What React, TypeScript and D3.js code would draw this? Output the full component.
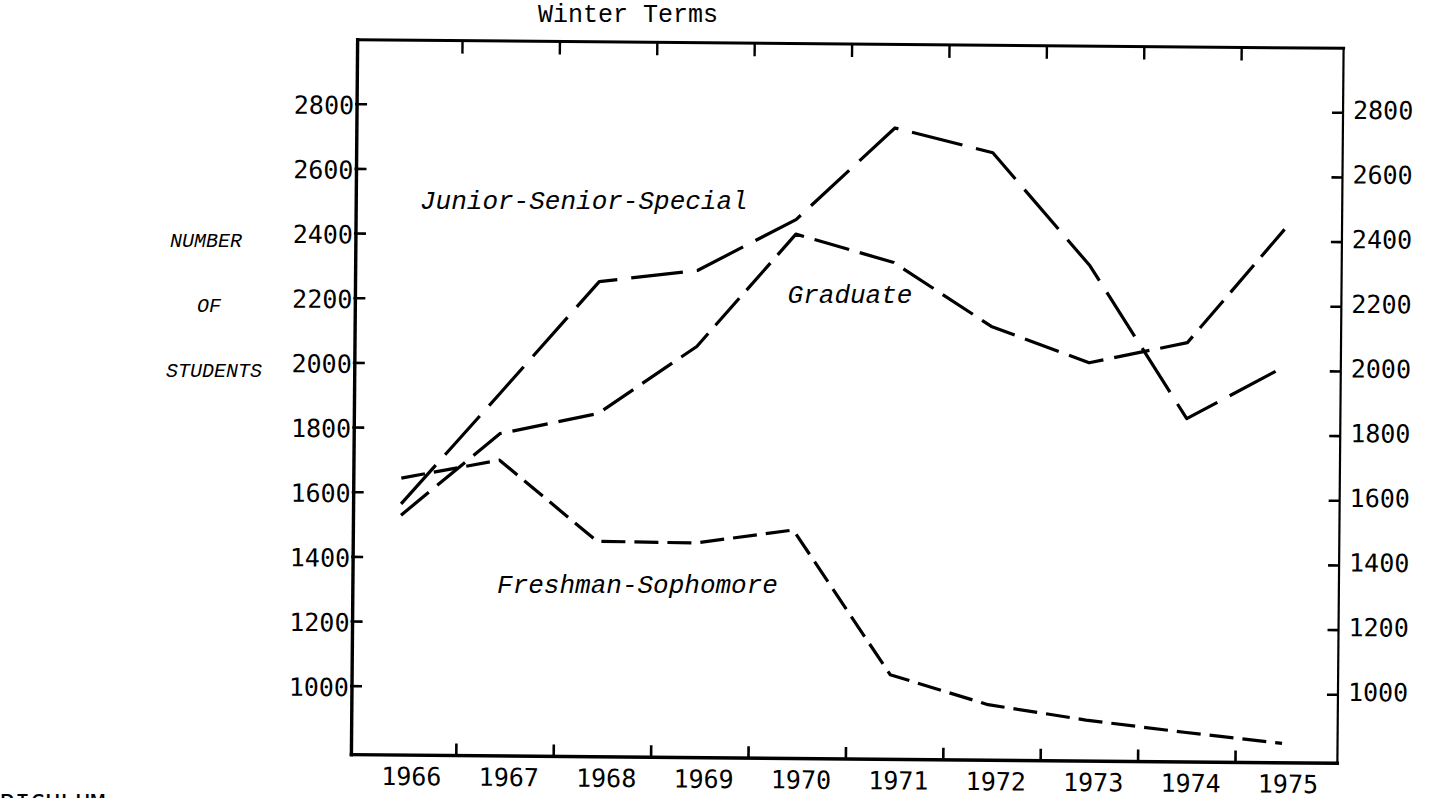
import React from "react";
import * as d3 from "d3";

// ---- data ----
const years = [1966, 1967, 1968, 1969, 1970, 1971, 1972, 1973, 1974, 1975];
const juniorSeniorSpecial = [1565, 1910, 2258, 2295, 2455, 2741, 2667, 2320, 1850, 2015];
const graduate = [1530, 1785, 1850, 2060, 2410, 2325, 2130, 2020, 2085, 2445];
const freshmanSophomore = [1645, 1703, 1455, 1452, 1495, 1050, 960, 915, 880, 848];
const yTicks = [1000, 1200, 1400, 1600, 1800, 2000, 2200, 2400, 2600, 2800];
const seriesNames = ["Junior-Senior-Special", "Graduate", "Freshman-Sophomore"];
const title = "Winter Terms";
const yLabelLines = ["NUMBER", "OF", "STUDENTS"];

const W = 1432;
const H = 798;
const frame = { left: 354.5, right: 1340.5, top: 44, bottom: 759 };
const tilt = { angle: 0.5, cx: 847.5, cy: 401.75 };

const x = d3.scaleLinear().domain([1966, 1975]).range([402, 1285]);
const xBand = d3.scaleBand<number>().domain(years).range([362, 1336]);
const y = d3.scaleLinear().domain([1000, 2800]).range([690.5, 108.5]);

const line = d3
  .line<number>()
  .x((_, i) => x(years[i]))
  .y((d) => y(d));

const series = [
  { name: seriesNames[0], values: juniorSeniorSpecial, dash: "52,14" },
  { name: seriesNames[1], values: graduate, dash: "36,11" },
  { name: seriesNames[2], values: freshmanSophomore, dash: "24,9" },
];

const tickFont = "'DejaVu Sans Mono', monospace";
const typeFont = "'Liberation Mono', 'Courier New', monospace";

export default function App() {
  const boundaries = years.slice(0, -1).map((yr) => (xBand(yr) as number) + xBand.step());
  return (
    <svg
      width={W}
      height={H}
      viewBox={`0 0 ${W} ${H}`}
      style={{ position: "absolute", left: 0, top: 0, background: "#fff" }}
    >
      <rect x={0} y={0} width={W} height={H} fill="#fff" />
      <g transform={`rotate(${tilt.angle}, ${tilt.cx}, ${tilt.cy})`}>
        {/* frame */}
        <line x1={frame.left} y1={frame.top} x2={frame.left} y2={frame.bottom} stroke="#000" strokeWidth={3.4} strokeLinecap="square" />
        <line x1={frame.left} y1={frame.top} x2={frame.right} y2={frame.top} stroke="#000" strokeWidth={3} strokeLinecap="square" />
        <line x1={frame.right} y1={frame.top} x2={frame.right} y2={frame.bottom} stroke="#000" strokeWidth={2.2} strokeLinecap="square" />
        <line x1={frame.left} y1={frame.bottom} x2={frame.right} y2={frame.bottom} stroke="#000" strokeWidth={3.4} strokeLinecap="square" />

        {/* top & bottom ticks at year boundaries */}
        {boundaries.map((bx, i) => (
          <g key={"bt" + i}>
            <line x1={bx} x2={bx} y1={frame.top} y2={frame.top + 13} stroke="#000" strokeWidth={2.4} />
            <line x1={bx} x2={bx} y1={frame.bottom} y2={frame.bottom - 12} stroke="#000" strokeWidth={2.6} />
          </g>
        ))}

        {/* year labels */}
        {years.map((yr) => (
          <text
            key={"yl" + yr}
            x={(xBand(yr) as number) + xBand.bandwidth() / 2 + 4}
            y={frame.bottom + 30}
            textAnchor="middle"
            fontFamily={tickFont}
            fontSize={25}
            fill="#000"
          >
            {yr}
          </text>
        ))}

        {/* left & right y ticks and labels */}
        {yTicks.map((v) => (
          <g key={"yt" + v}>
            <line x1={frame.left - 2} x2={frame.left + 10} y1={y(v)} y2={y(v)} stroke="#000" strokeWidth={2.6} />
            <line x1={frame.right - 11} x2={frame.right} y1={y(v)} y2={y(v)} stroke="#000" strokeWidth={2.6} />
            <text x={frame.left - 3} y={y(v) + 10} textAnchor="end" fontFamily={tickFont} fontSize={25} fill="#000">
              {v}
            </text>
            <text x={frame.right + 10} y={y(v) + 6} textAnchor="start" fontFamily={tickFont} fontSize={25} fill="#000">
              {v}
            </text>
          </g>
        ))}

        {/* series */}
        {series.map((s) => (
          <path
            key={s.name}
            d={line(s.values) as string}
            fill="none"
            stroke="#000"
            strokeWidth={3.2}
            strokeDasharray={s.dash}
            strokeLinejoin="round"
          />
        ))}
      </g>

      {/* title */}
      <text x={628} y={22} textAnchor="middle" fontFamily={typeFont} fontSize={25} fill="#000">
        {title}
      </text>

      {/* y-axis label */}
      {yLabelLines.map((t, i) => (
        <text
          key={t}
          x={[206, 209, 214][i]}
          y={247 + i * 65}
          textAnchor="middle"
          fontFamily={typeFont}
          fontStyle="italic"
          fontSize={20}
          fill="#000"
        >
          {t}
        </text>
      ))}

      {/* series labels */}
      <text x={420} y={209} fontFamily={typeFont} fontStyle="italic" fontSize={26} fill="#000">
        {seriesNames[0]}
      </text>
      <text x={850} y={303} textAnchor="middle" fontFamily={typeFont} fontStyle="italic" fontSize={26} fill="#000">
        {seriesNames[1]}
      </text>
      <text x={637.5} y={593} textAnchor="middle" fontFamily={typeFont} fontStyle="italic" fontSize={26} fill="#000">
        {seriesNames[2]}
      </text>

      {/* cut-off caption at page bottom */}
      <text x={0} y={812} fontFamily={tickFont} fontSize={25} fill="#000">
        RICULUM
      </text>
    </svg>
  );
}
